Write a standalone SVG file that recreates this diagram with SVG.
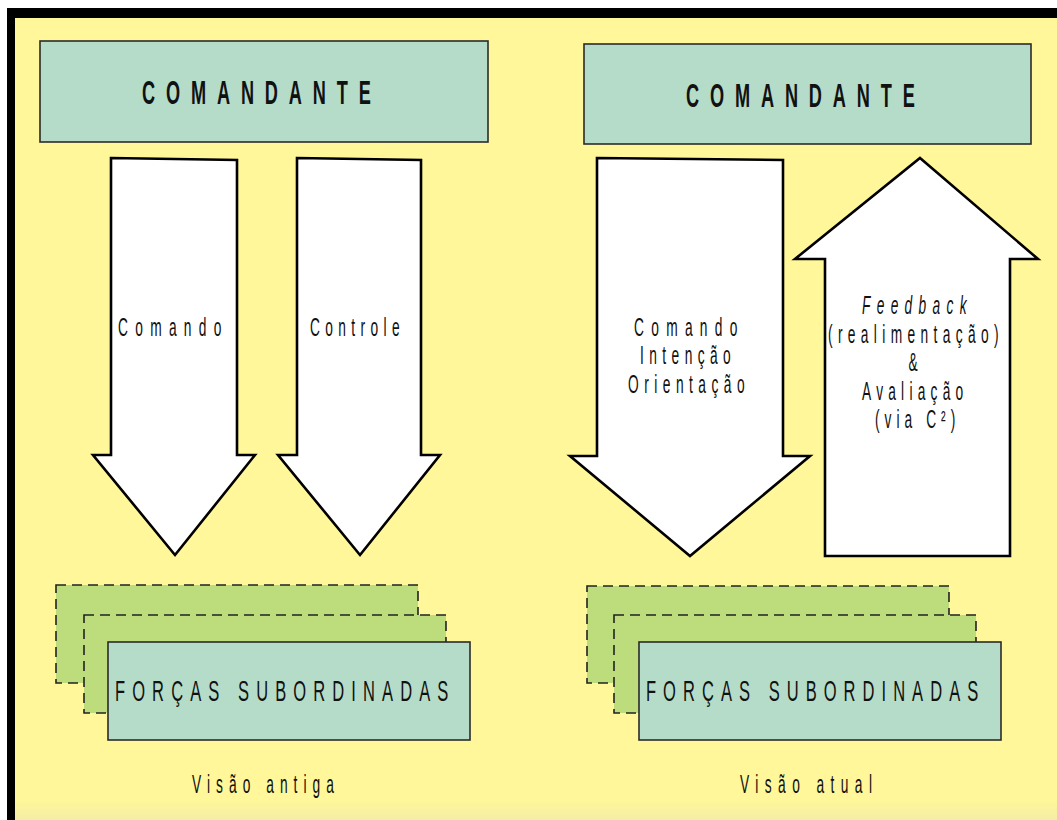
<svg xmlns="http://www.w3.org/2000/svg" width="1057" height="820" viewBox="0 0 1057 820">
<defs>
<linearGradient id="bot" x1="0" y1="0" x2="0" y2="1">
<stop offset="0" stop-color="#fff799"/>
<stop offset="1" stop-color="#f4eda6"/>
</linearGradient>
<style>
.box{fill:#b5dcc8;stroke:#2b2b2b;stroke-width:1.6}
.back{fill:#bddc7c;stroke:#222;stroke-width:1.6;stroke-dasharray:10 6}
.arrow{fill:#ffffff;stroke:#000;stroke-width:2.6;stroke-linejoin:miter}
.t{font-family:"Liberation Sans",Arial,sans-serif;fill:#111}
.title{font-size:33px;font-weight:bold}
.lbl{font-size:25px}
.big{font-size:30px}
</style>
</defs>
<rect x="0" y="0" width="1057" height="820" fill="#ffffff"/>
<rect x="7" y="8" width="1050" height="812" fill="#fff799"/>
<rect x="15" y="800" width="1042" height="20" fill="url(#bot)"/>
<rect x="7" y="8" width="1050" height="10" fill="#000"/>
<rect x="7" y="8" width="8" height="812" fill="#000"/>

<g id="comandante-antigo">
<rect class="box" x="40" y="41" width="448" height="101"/>
<text class="t title" transform="translate(142,104) scale(0.55,1)" textLength="416" lengthAdjust="spacing">COMANDANTE</text>
</g>
<g id="comandante-atual">
<rect class="box" x="584" y="44" width="447" height="100"/>
<text class="t title" transform="translate(686,107) scale(0.55,1)" textLength="416" lengthAdjust="spacing">COMANDANTE</text>
</g>

<g id="connectors">
<g id="seta-comando">
<path class="arrow" d="M111,158 L237,160 L237,455 L255,455 L175,555 L93,455 L111,455 Z"/>
<text class="t lbl" transform="translate(118,336) scale(0.55,1)" textLength="188" lengthAdjust="spacing">Comando</text>
</g>
<g id="seta-controle">
<path class="arrow" d="M297,158 L421,160 L421,455 L440,455 L360,555 L278,455 L297,455 Z"/>
<text class="t lbl" transform="translate(310,336) scale(0.55,1)" textLength="163" lengthAdjust="spacing">Controle</text>
</g>
<g id="seta-comando-atual">
<path class="arrow" d="M597,158 L783,160 L783,456 L810,456 L690,556 L570,456 L597,456 Z"/>
<text class="t lbl" transform="translate(634,336) scale(0.55,1)" textLength="188" lengthAdjust="spacing">Comando</text>
<text class="t lbl" transform="translate(640,364) scale(0.55,1)" textLength="165" lengthAdjust="spacing">Intenção</text>
<text class="t lbl" transform="translate(628,393) scale(0.55,1)" textLength="212" lengthAdjust="spacing">Orientação</text>
</g>
<g id="seta-feedback">
<path class="arrow" d="M920,158 L1038,259 L1010,259 L1010,556 L825,556 L825,259 L795,259 Z"/>
<text class="t lbl" font-style="italic" transform="translate(862,314) scale(0.55,1)" textLength="190" lengthAdjust="spacing">Feedback</text>
<text class="t lbl" transform="translate(828,343) scale(0.55,1)" textLength="310" lengthAdjust="spacing">(realimentação)</text>
<text class="t lbl" transform="translate(913,371) scale(0.55,1)" text-anchor="middle">&amp;</text>
<text class="t lbl" transform="translate(862,400) scale(0.55,1)" textLength="184" lengthAdjust="spacing">Avaliação</text>
<text class="t lbl" transform="translate(875,428) scale(0.55,1)" textLength="146" lengthAdjust="spacing">(via C²)</text>
</g>
</g>

<g id="forcas-antiga">
<rect class="back" x="56" y="585" width="362" height="98"/>
<rect class="back" x="84" y="615" width="362" height="98"/>
<rect class="box" x="108" y="642" width="362" height="98"/>
<text class="t big" transform="translate(115,701) scale(0.55,1)" textLength="606" lengthAdjust="spacing">FORÇAS SUBORDINADAS</text>
</g>
<g id="forcas-atual">
<rect class="back" x="587" y="586" width="362" height="97"/>
<rect class="back" x="614" y="615" width="362" height="98"/>
<rect class="box" x="639" y="642" width="362" height="98"/>
<text class="t big" transform="translate(646,701) scale(0.55,1)" textLength="604" lengthAdjust="spacing">FORÇAS SUBORDINADAS</text>
</g>

<g id="legendas">
<text class="t lbl" transform="translate(192,793) scale(0.55,1)" textLength="258" lengthAdjust="spacing">Visão antiga</text>
<text class="t lbl" transform="translate(740,793) scale(0.55,1)" textLength="240" lengthAdjust="spacing">Visão atual</text>
</g>
</svg>
